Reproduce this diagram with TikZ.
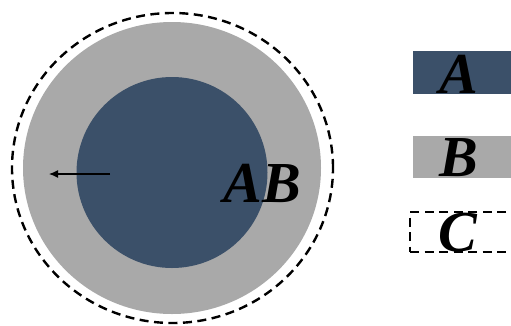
\documentclass[tikz,border=0pt]{standalone}
\usepackage{fontspec}
\setmainfont{Liberation Serif}
\usetikzlibrary{arrows.meta,shapes.geometric}
\definecolor{coreblue}{HTML}{3B5069}
\definecolor{shellgray}{HTML}{A9A9A9}
\tikzset{
  lbl/.style={font=\fontsize{58}{58}\selectfont\bfseries\itshape, text=black, inner sep=0pt},
  dashline/.style={draw=black, line width=2.4pt, dash pattern=on 9pt off 5.5pt},
  legendbox/.style={minimum width=110pt, anchor=west, inner sep=0pt}
}
\begin{document}
\begin{tikzpicture}[x=1pt,y=-1pt]
  \useasboundingbox (0,0) rectangle (511,325);
  \clip (0,0) rectangle (511,325);
  % particle: shell, core and dashed outer boundary
  \node[ellipse, fill=shellgray, minimum width=298pt, minimum height=292pt, inner sep=0pt] (shell) at (172,168) {};
  \node[circle, fill=coreblue, minimum size=191pt, inner sep=0pt] (core) at (172,172.5) {};
  \node[ellipse, dashline, minimum width=321pt, minimum height=310pt, inner sep=0pt] (outer) at (172.5,168) {};
  % outward arrow
  \coordinate (arrS) at (110,174);
  \coordinate (arrE) at (49,174);
  \draw[line width=1.2pt, -{Latex[length=9pt,width=8pt]}] (arrS) -- (arrE);
  \node[lbl, anchor=base] (ab) at (262,202) {AB};
  % legend
  \node[legendbox, fill=coreblue, minimum height=43pt] (boxA) at (413,72.5) {};
  \node[lbl, anchor=base] (labA) at (459,93) {A};
  \node[legendbox, fill=shellgray, minimum height=42pt] (boxB) at (413,157) {};
  \node[lbl, anchor=base] (labB) at (459,176) {B};
  \node[legendbox, dashline, minimum height=40pt, minimum width=115pt] (boxC) at (409,232) {};
  \node[lbl, anchor=base] (labC) at (458,251) {C};
\end{tikzpicture}
\end{document}
